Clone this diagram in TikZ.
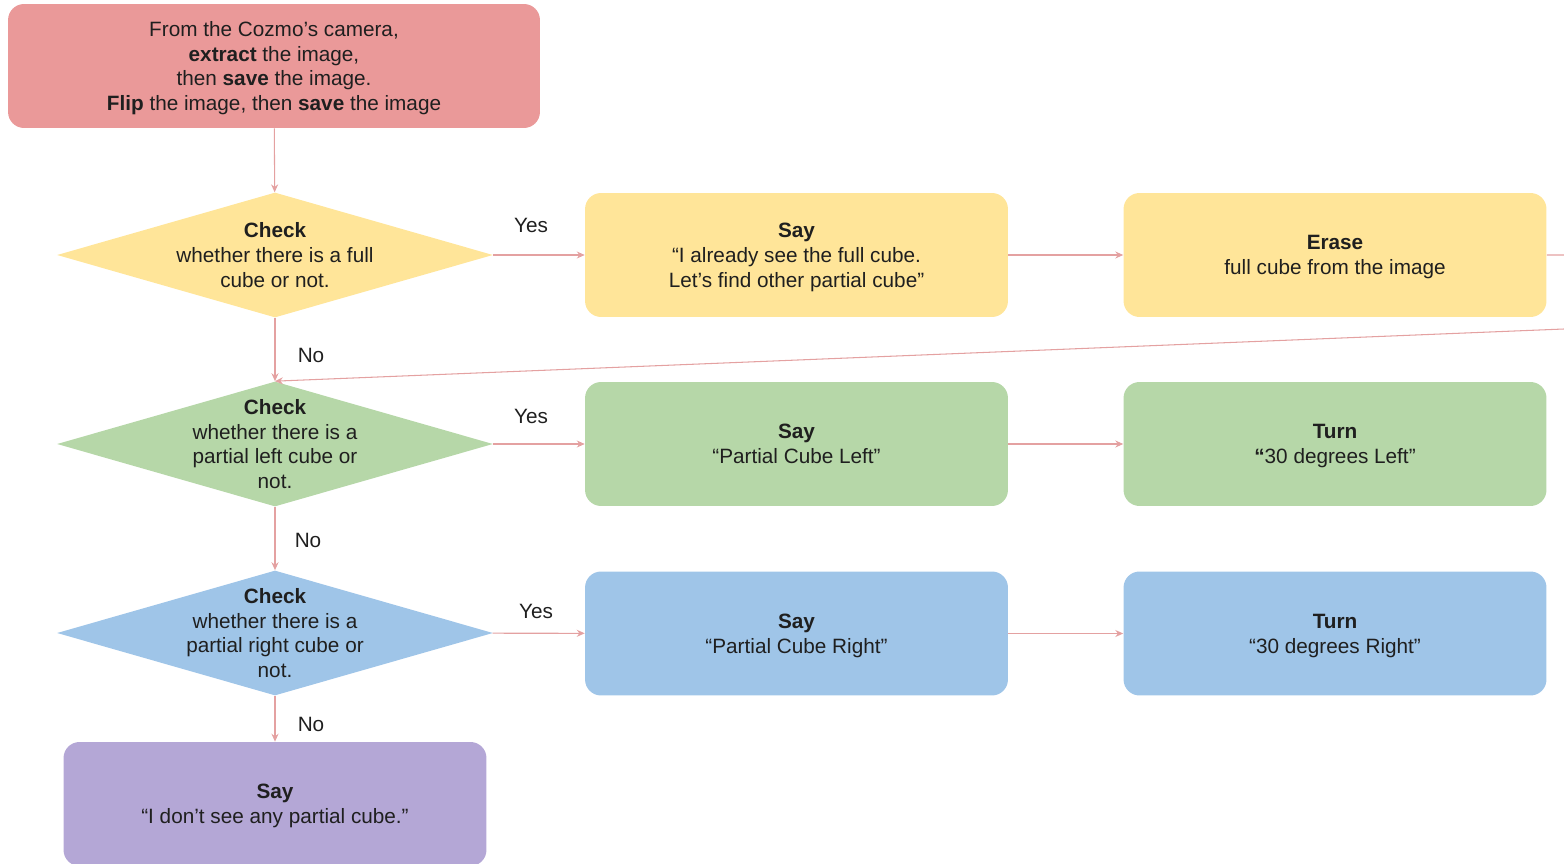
\documentclass[tikz,border=0pt]{standalone}
\usepackage{fontspec}
\setmainfont{Liberation Sans}
\usepackage{xcolor}
\usetikzlibrary{shapes.geometric,arrows.meta}

\definecolor{boxred}{HTML}{EA9999}
\definecolor{boxyellow}{HTML}{FFE599}
\definecolor{boxgreen}{HTML}{B6D7A8}
\definecolor{boxblue}{HTML}{9FC5E8}
\definecolor{boxpurple}{HTML}{B4A7D6}
\definecolor{linkred}{HTML}{E4A1A1}
\definecolor{inktext}{HTML}{1F1F1F}

\begin{document}
\begin{tikzpicture}[x=0.02cm,y=-0.02cm,
    font=\fontsize{11.8}{14.2}\selectfont, text=inktext,
    stepbox/.style={rounded corners=0.32cm,minimum width=8.46cm,minimum height=2.48cm,align=center,inner sep=0pt,text depth=0pt},
    check/.style={diamond,minimum width=8.72cm,minimum height=2.5cm,inner sep=0pt},
    flow/.style={draw=linkred,line width=0.6pt,-{Stealth[length=4.5pt,width=4pt]}}]
    \clip (0,0) rectangle (1564,864);

    % start
    \node[stepbox,fill=boxred,minimum width=10.64cm] (grab) at (274,66)
        {From the Cozmo's camera,\\ \textbf{extract} the image,\\ then \textbf{save} the image.\\ \textbf{Flip} the image, then \textbf{save} the image};

    % full cube
    \node[check,fill=boxyellow] (full) at (275,255) {};
    \node[align=center,text depth=0pt] (fullt) at (full) {\textbf{Check}\\ whether there is a full\\ cube or not.};
    \node[stepbox,fill=boxyellow] (sayfull) at (796.5,255) {\textbf{Say}\\ ``I already see the full cube.\\ Let's find other partial cube''};
    \node[stepbox,fill=boxyellow] (erase) at (1335,255) {\textbf{Erase}\\ full cube from the image};

    % partial left
    \node[check,fill=boxgreen] (left) at (275,444) {};
    \node[align=center,text depth=0pt] (leftt) at (left) {\textbf{Check}\\ whether there is a\\ partial left cube or\\ not.};
    \node[stepbox,fill=boxgreen] (sayleft) at (796.5,444) {\textbf{Say}\\ ``Partial Cube Left''};
    \node[stepbox,fill=boxgreen] (turnleft) at (1335,444) {\textbf{Turn}\\ \textbf{``}30 degrees Left''};

    % partial right
    \node[check,fill=boxblue] (right) at (275,633) {};
    \node[align=center,text depth=0pt] (rightt) at (right) {\textbf{Check}\\ whether there is a\\ partial right cube or\\ not.};
    \node[stepbox,fill=boxblue] (sayright) at (796.5,633.5) {\textbf{Say}\\ ``Partial Cube Right''};
    \node[stepbox,fill=boxblue] (turnright) at (1335,633.5) {\textbf{Turn}\\ ``30 degrees Right''};

    % nothing found
    \node[stepbox,fill=boxpurple] (saynone) at (275,804) {\textbf{Say}\\ ``I don't see any partial cube.''};

    % connectors
    \draw[flow] (grab) -- (full);
    \draw[flow] (full) -- (sayfull);
    \draw[flow] (sayfull) -- (erase);
    \draw[flow] (erase.east) -- (1590,255) -- (1590,329) -- (1564,329) -- (left.north);
    \draw[flow] (full) -- (left);
    \draw[flow] (left) -- (sayleft);
    \draw[flow] (sayleft) -- (turnleft);
    \draw[flow] (left) -- (right);
    \draw[flow] (right) -- (sayright);
    \draw[flow] (sayright) -- (turnright);
    \draw[flow] (right) -- (saynone);

    % branch labels
    \node (yes1) at (531,225) {Yes};
    \node (yes2) at (531,416) {Yes};
    \node (yes3) at (536,611) {Yes};
    \node (no1) at (311,355) {No};
    \node (no2) at (308,540) {No};
    \node (no3) at (311,724) {No};
\end{tikzpicture}
\end{document}
